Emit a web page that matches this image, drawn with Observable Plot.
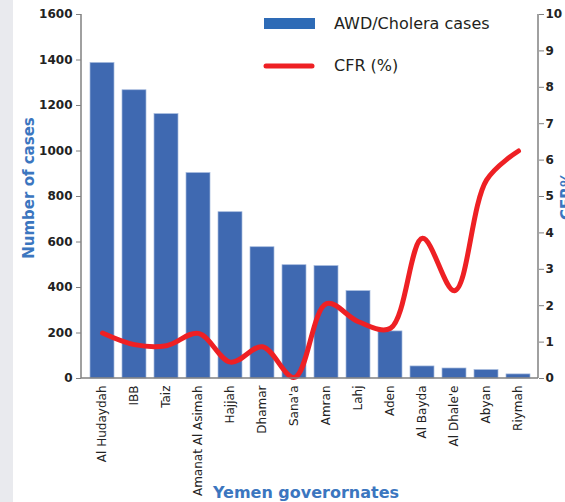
<!DOCTYPE html>
<html><head><meta charset="utf-8">
<script src="https://cdn.jsdelivr.net/npm/d3@7"></script>
<script src="https://cdn.jsdelivr.net/npm/@observablehq/plot@0.6"></script>
<style>body{margin:0;background:#fff;} #chart{position:relative;width:565px;height:502px;overflow:hidden;}</style>
</head><body><div id="chart"></div>
<script>
const governorates = ["Al Hudaydah","IBB","Taiz","Amanat Al Asimah","Hajjah","Dhamar","Sana'a","Amran","Lahj","Aden","Al Bayda","Al Dhale'e","Abyan","Riymah"];
const cases = [1387,1267,1162,903,731,577,498,494,384,207,53,44,37,18];
const cfr = [1.25,0.93,0.9,1.24,0.45,0.87,0.03,2.06,1.56,1.38,3.85,2.41,5.45,6.25];
const caseTicks = [0,200,400,600,800,1000,1200,1400,1600];
const cfrTicks = [0,1,2,3,4,5,6,7,8,9,10];
const K = 160; // 10% CFR maps onto 1600 cases

const data = governorates.map((g, i) => ({g, cases: cases[i], cfr: cfr[i]}));

const plot = Plot.plot({
  width: 565, height: 502,
  marginTop: 14, marginBottom: 124, marginLeft: 81, marginRight: 27,
  style: {fontFamily: "DejaVu Sans", fontSize: "12px", color: "#222", background: "transparent", overflow: "hidden"},
  x: {domain: governorates, paddingInner: 0.26, paddingOuter: 0.13, label: null},
  y: {domain: [0, 1600], label: null},
  marks: [
    Plot.barY(data, {x: "g", y: "cases", fill: "#3f69b1", stroke: "#a4b9dd", strokeWidth: 0.7}),
    Plot.line(data, {x: "g", y: d => d.cfr * K, stroke: "#ee2024", strokeWidth: 5, curve: "catmull-rom", strokeLinecap: "round"}),
    Plot.axisY(caseTicks, {anchor: "left", tickSize: 5, tickPadding: 4, tickFormat: d => String(d), fontSize: 12, fontWeight: "bold", stroke: "#808080", fill: "#222", label: null}),
    Plot.axisY(cfrTicks.map(v => v * K), {anchor: "right", tickSize: 5, tickPadding: 2, tickFormat: d => String(d / K), fontSize: 12, fontWeight: "bold", stroke: "#808080", fill: "#222", label: null}),
    Plot.axisX({tickRotate: -90, tickSize: 0, tickPadding: 7, fontSize: 12, fill: "#222", label: null})
  ]
});

const svg = d3.select(plot);
const [x0, x1] = plot.scale("x").range;
const [yb, yt] = plot.scale("y").range;

// gray strip on the left
svg.insert("rect", ":first-child").attr("x", 0).attr("y", 0).attr("width", 13).attr("height", 502).attr("fill", "#e9eaee");

// axis lines
const axg = svg.append("g").attr("stroke", "#808080").attr("stroke-width", 1.5);
axg.append("line").attr("x1", x0).attr("x2", x0).attr("y1", yt).attr("y2", yb);
axg.append("line").attr("x1", x1).attr("x2", x1).attr("y1", yt).attr("y2", yb);
axg.append("line").attr("x1", x0).attr("x2", x1).attr("y1", yb).attr("y2", yb);

// titles
const titleColor = "#3b76bf";
svg.append("text").text("Number of cases")
  .attr("transform", `translate(29,${(yt + yb) / 2 - 8}) rotate(-90)`)
  .attr("text-anchor", "middle").attr("dominant-baseline", "central")
  .attr("font-weight", "bold").attr("font-size", 15).attr("fill", titleColor);
svg.append("text").text("CFR%")
  .attr("transform", `translate(572,196) rotate(-90)`)
  .attr("text-anchor", "middle")
  .attr("font-weight", "bold").attr("font-size", 15).attr("fill", titleColor);
svg.append("text").text("Yemen goverornates")
  .attr("x", 306).attr("y", 498)
  .attr("text-anchor", "middle")
  .attr("font-weight", "bold").attr("font-size", 16).attr("fill", titleColor);

// legend
const lg = svg.append("g").attr("font-size", 16).attr("fill", "#231f20").attr("text-anchor", "start");
lg.append("rect").attr("x", 264).attr("y", 18).attr("width", 51).attr("height", 11).attr("fill", "#2e6bb6");
lg.append("text").attr("x", 334).attr("y", 29).text("AWD/Cholera cases");
lg.append("line").attr("x1", 266).attr("x2", 312).attr("y1", 66).attr("y2", 66)
  .attr("stroke", "#ee2024").attr("stroke-width", 5).attr("stroke-linecap", "round");
lg.append("text").attr("x", 334).attr("y", 71).text("CFR (%)");

document.getElementById("chart").append(plot);
</script>
</body></html>
